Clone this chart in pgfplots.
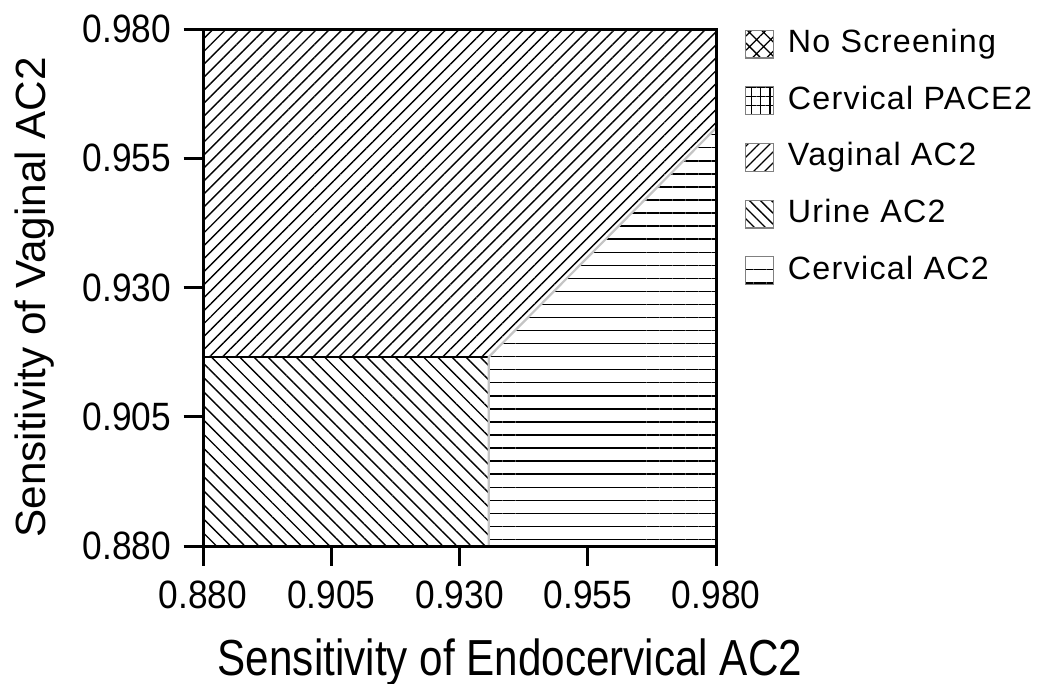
\documentclass[border=0pt]{standalone}
\usepackage{fontspec}
\setmainfont{Liberation Sans}
\newfontfamily\legfont[LetterSpace=4]{Liberation Sans}
\usepackage{graphicx}
\usepackage{pgfplots}
\pgfplotsset{compat=1.18}
\usetikzlibrary{patterns.meta}
\definecolor{edge}{HTML}{C4C4C4}
\newcommand{\tl}[1]{\scalebox{1}[1.12]{#1}}
\begin{document}
\begin{tikzpicture}
\begin{axis}[
  at={(0,0)}, anchor=south west,
  scale only axis, width=184.7pt, height=186.1pt,
  xmin=0.88, xmax=0.98, ymin=0.88, ymax=0.98,
  xtick={0.88,0.905,0.93,0.955,0.98},
  xticklabels={\tl{0.880},\tl{0.905},\tl{0.930},\tl{0.955},\tl{0.980}},
  ytick={0.88,0.905,0.93,0.955,0.98},
  yticklabels={\tl{0.880},\tl{0.905},\tl{0.930},\tl{0.955},\tl{0.980}},
  xtick pos=left, ytick pos=left, tick align=outside,
  major tick length=7pt,
  major tick style={line width=1.1pt, black},
  axis line style={line width=1.1pt, black},
  tick label style={font=\fontsize{12.7}{14}\selectfont},
  xticklabel style={yshift=-2pt},
  yticklabel style={xshift=-1pt},
  axis on top, clip=false,
  legend style={draw=none, fill=none, at={(axis description cs:1,1)}, anchor=north west,
    xshift=10pt, yshift=1.8pt, inner xsep=0pt, inner ysep=0pt,
    font=\legfont\fontsize{11.6}{13}\selectfont, row sep=6.4pt, column sep=4pt,
    nodes={text height=9pt, text depth=3pt, inner sep=1pt}},
  legend cell align=left,
  legend image code/.code={\path[#1] (0pt,-5pt) rectangle (10.2pt,5pt);},
]
% Vaginal AC2 region
\addplot[forget plot, draw=none, pattern={Lines[angle=45, distance=3.3pt, line width=0.5pt]}]
  coordinates {(0.88,0.9166) (0.9357,0.9166) (0.98,0.9609) (0.98,0.98) (0.88,0.98)} -- cycle;
% Urine AC2 region
\addplot[forget plot, draw=none, pattern={Lines[angle=-45, distance=3.6pt, line width=0.5pt]}]
  coordinates {(0.88,0.88) (0.9357,0.88) (0.9357,0.9166) (0.88,0.9166)} -- cycle;
% Cervical AC2 region
\addplot[forget plot, draw=none, pattern={Lines[angle=0, distance=4.7pt, line width=0.5pt]}]
  coordinates {(0.9357,0.88) (0.98,0.88) (0.98,0.9609) (0.9357,0.9166)} -- cycle;
% boundaries
\addplot[forget plot, black, line width=0.6pt] coordinates {(0.88,0.9166) (0.9357,0.9166)};
\addplot[forget plot, edge, line width=0.8pt] coordinates {(0.9357,0.88) (0.9357,0.9166) (0.98,0.9609)};
% legend
\addlegendimage{draw=gray, pattern={Hatch[angle=45, distance=3.6pt, line width=0.45pt]}}
\addlegendentry{No Screening}
\addlegendimage{draw=gray, pattern={Hatch[angle=0, distance=3.3pt, line width=0.45pt]}}
\addlegendentry{Cervical PACE2}
\addlegendimage{draw=gray, pattern={Lines[angle=45, distance=2.8pt, line width=0.45pt]}}
\addlegendentry{Vaginal\ AC2}
\addlegendimage{draw=gray, pattern={Lines[angle=-45, distance=2.8pt, line width=0.45pt]}}
\addlegendentry{Urine AC2}
\addlegendimage{draw=gray, pattern={Lines[angle=0, distance=4.8pt, line width=0.45pt]}}
\addlegendentry{Cervical AC2}
\end{axis}
\node[rotate=90, font=\fontsize{15.2}{17}\selectfont] at (-60.5pt,89.6pt) {Sensitivity of Vaginal AC2};
\node[font=\fontsize{15.2}{17}\selectfont] at (110.5pt,-41.8pt) {\scalebox{1}[1.2]{Sensitivity of Endocervical AC2}};
\pgfresetboundingbox
\path (-73.1pt,-49.3pt) rectangle (304.9pt,196.6pt);
\end{tikzpicture}
\end{document}
